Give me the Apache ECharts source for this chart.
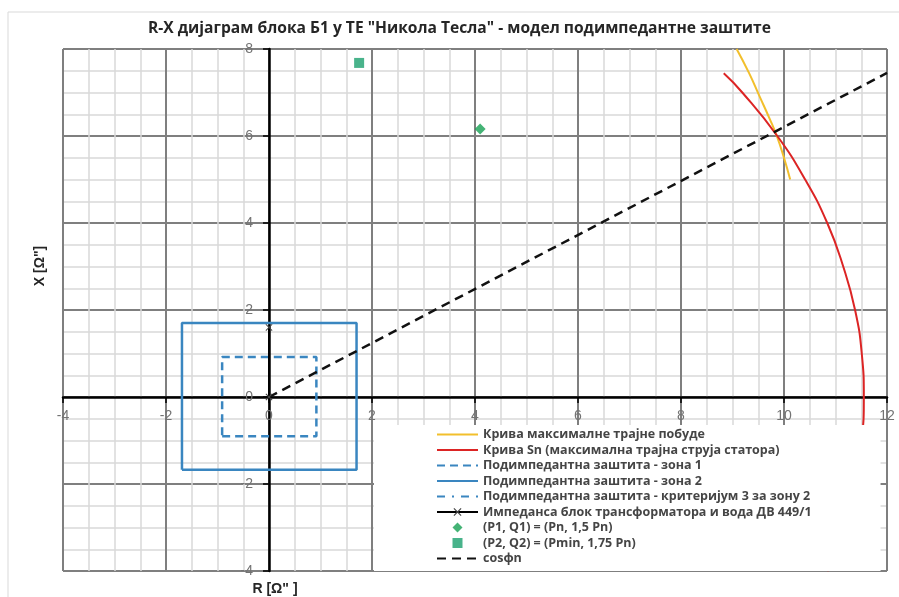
<!DOCTYPE html>
<html>
<head>
<meta charset="utf-8">
<script src="https://cdn.jsdelivr.net/npm/echarts@6/dist/echarts.min.js"></script>
<style>html,body{margin:0;padding:0;background:#fff}#c{width:899px;height:597px}</style>
</head>
<body>
<div id="c"></div>
<script>
// ---- data (R [Ω], X [Ω]) ----
const titleText = 'R-X дијаграм блока Б1 у ТЕ "Никола Тесла" - модел подимпедантне заштите';
const xName = 'R [Ω" ]';
const yName = 'X [Ω"]';
const seriesNames = [
  'Крива максималне трајне побуде',
  'Крива Sn (максимална трајна струја статора)',
  'Подимпедантна заштита - зона 1',
  'Подимпедантна заштита - зона 2',
  'Подимпедантна заштита - критеријум 3 за зону 2',
  'Импеданса блок трансформатора и вода ДВ 449/1',
  '(P1, Q1) = (Pn, 1,5 Pn)',
  '(P2, Q2) = (Pmin, 1,75 Pn)',
  'cosфn'
];
const excitationCurve = [[9.08,8.0],[9.32,7.45],[9.53,6.9],[9.72,6.4],[9.86,6.0],[10.0,5.5],[10.12,5.0]];
const statorCurve = [[8.83,7.44],[9.19,7.0],[9.87,6.0],[10.41,5.0],[10.84,4.0],[11.15,3.0],[11.38,2.0],[11.51,1.0],[11.55,0.0],[11.51,-1.0],[11.38,-2.0],[11.15,-3.0],[10.84,-4.0]];
const zone1 = [[-0.91,-0.9],[0.92,-0.9],[0.92,0.92],[-0.91,0.92],[-0.91,-0.9]];
const zone2 = [[-1.69,-1.67],[1.7,-1.67],[1.7,1.7],[-1.69,1.7],[-1.69,-1.67]];
const criterion3 = [];
const impedance = [[0,0],[0,1.6]];
const point1 = [[4.1,6.16]];
const point2 = [[1.75,7.68]];
const cosPhiLine = [[0,0],[12,7.45]];
const xMin = -4, xMax = 12, yMin = -4, yMax = 8, majorStep = 2;

const crossPath = 'path://M0,1 L1,0 L5,4 L9,0 L10,1 L6,5 L10,9 L9,10 L5,6 L1,10 L0,9 L4,5 Z';
const diamondPath = 'path://M5,0 L10,5 L5,10 L0,5 Z';
const squarePath = 'path://M0,0 L10,0 L10,10 L0,10 Z';
const FONT = 'Liberation Sans, Arial, sans-serif';
const LFONT = 'Open Sans, Liberation Sans, sans-serif';
const blue = '#3a86c0';
const hideSym = {opacity: 0};

const chart = echarts.init(document.getElementById('c'), null, {renderer: 'canvas'});
const axisCommon = {
  type: 'value', interval: majorStep,
  axisLine: {show: true, onZero: false, lineStyle: {color: '#000', width: 2.5}},
  axisTick: {show: true, length: 6, lineStyle: {color: '#000', width: 1.5}},
  minorTick: {show: false, splitNumber: 4},
  splitLine: {show: true, lineStyle: {color: '#7f7f7f', width: 2}},
  minorSplitLine: {show: true, lineStyle: {color: '#d9d9d9', width: 1.5}},
  axisLabel: {color: '#737373', fontSize: 14, fontFamily: FONT}
};
const option = {
  animation: false,
  backgroundColor: '#fff',
  title: {text: titleText, left: 148, top: 21, padding: 0,
    textStyle: {fontSize: 15.6, fontWeight: 'bold', color: '#262626', fontFamily: LFONT}},
  grid: {left: 63, top: 49, width: 824, height: 522, containLabel: false},
  xAxis: Object.assign({}, axisCommon, {min: xMin, max: xMax, position: 'bottom', offset: 0,
    axisLabel: Object.assign({}, axisCommon.axisLabel, {margin: 12, showMinLabel: true, showMaxLabel: true})}),
  yAxis: Object.assign({}, axisCommon, {min: yMin, max: yMax, position: 'left', offset: 0,
    axisLabel: Object.assign({}, axisCommon.axisLabel, {margin: 16, showMinLabel: true, showMaxLabel: true})}),
  legend: {
    orient: 'vertical', left: 374, top: 425,
    backgroundColor: '#fff', padding: [3, 69, 6, 62],
    itemWidth: 41, itemHeight: 10, itemGap: 2.5,
    symbolKeepAspect: true,
    textStyle: {fontSize: 12.5, fontWeight: 'bold', color: '#454545', fontFamily: LFONT, lineHeight: 12},
    data: [
      {name: seriesNames[0], itemStyle: hideSym},
      {name: seriesNames[1], itemStyle: hideSym},
      {name: seriesNames[2], itemStyle: hideSym},
      {name: seriesNames[3], itemStyle: hideSym},
      {name: seriesNames[4], itemStyle: hideSym},
      {name: seriesNames[5]},
      {name: seriesNames[6], icon: diamondPath},
      {name: seriesNames[7], icon: squarePath},
      {name: seriesNames[8], itemStyle: hideSym}
    ]
  },
  graphic: [
    {type: 'rect', shape: {x: 8, y: 12, width: 900, height: 600}, style: {fill: 'none', stroke: '#d9d9d9', lineWidth: 1}, z: -10, silent: true},
    {type: 'text', x: 40, y: 266, rotation: Math.PI / 2,
      style: {text: yName, fontSize: 14, fontWeight: 'bold', fill: '#262626', fontFamily: FONT, align: 'center', verticalAlign: 'middle'}},
    {type: 'text', x: 275, y: 589,
      style: {text: xName, fontSize: 14, fontWeight: 'bold', fill: '#262626', fontFamily: FONT, align: 'center', verticalAlign: 'middle'}}
  ],
  series: [
    {name: seriesNames[0], type: 'line', data: excitationCurve, smooth: true, symbol: 'none',
      lineStyle: {color: '#f2bf2c', width: 2}, itemStyle: {color: '#f2bf2c'}, z: 3},
    {name: seriesNames[1], type: 'line', data: statorCurve, smooth: true, symbol: 'none',
      lineStyle: {color: '#dc2424', width: 2}, itemStyle: {color: '#dc2424'}, z: 3},
    {name: seriesNames[2], type: 'line', data: zone1, symbol: 'none',
      lineStyle: {color: blue, width: 2.5, type: [8, 5]}, itemStyle: {color: blue}},
    {name: seriesNames[3], type: 'line', data: zone2, symbol: 'none',
      lineStyle: {color: blue, width: 2.5}, itemStyle: {color: blue}},
    {name: seriesNames[4], type: 'line', data: criterion3, symbol: 'none',
      lineStyle: {color: blue, width: 2.5, type: [8, 7, 2, 7]}, itemStyle: {color: blue}},
    {name: seriesNames[5], type: 'line', data: impedance, symbol: crossPath, symbolSize: 7,
      lineStyle: {color: '#000', width: 2}, itemStyle: {color: '#444'}},
    {name: seriesNames[6], type: 'scatter', data: point1, symbol: 'diamond', symbolSize: 11,
      itemStyle: {color: '#15a052'}},
    {name: seriesNames[7], type: 'scatter', data: point2, symbol: 'rect', symbolSize: 10,
      itemStyle: {color: '#1ca06e'}},
    {name: seriesNames[8], type: 'line', data: cosPhiLine, symbol: 'none',
      lineStyle: {color: '#111', width: 2.5, type: [9, 6]}, itemStyle: {color: '#111'}}
  ]
};
chart.setOption(option);
// place axes (lines, ticks, labels) through the origin using the library's scales
const origin = chart.convertToPixel({gridIndex: 0}, [0, 0]);
const corner = chart.convertToPixel({gridIndex: 0}, [xMin, yMin]);
chart.setOption({
  xAxis: {offset: -(corner[1] - origin[1])},
  yAxis: {offset: -(origin[0] - corner[0])}
});
</script>
</body>
</html>
